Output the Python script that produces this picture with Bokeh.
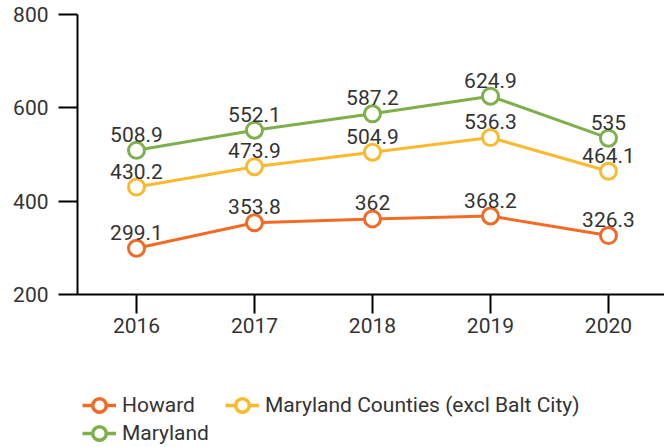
from bokeh.plotting import figure
from bokeh.layouts import column
from bokeh.models import ColumnDataSource, Legend, LegendItem, FixedTicker, Range1d
from bokeh.core.properties import value
from bokeh.embed import file_html
from bokeh.resources import INLINE

years = [2016, 2017, 2018, 2019, 2020]
howard = [299.1, 353.8, 362, 368.2, 326.3]
maryland = [508.9, 552.1, 587.2, 624.9, 535]
counties = [430.2, 473.9, 504.9, 536.3, 464.1]
y_ticks = [200, 400, 600, 800]

names = ["Howard", "Maryland", "Maryland Counties (excl Balt City)"]
colors = ["#F26B25", "#7EAF4B", "#FBB92D"]
values_list = [howard, maryland, counties]

FONT = "Roboto"
FS = "21px"
W = 664

p = figure(width=W, height=350, output_backend="svg", toolbar_location=None,
           x_range=Range1d(2015.5, 2020.475), y_range=Range1d(200, 800),
           min_border_left=77, min_border_right=0, min_border_top=14, min_border_bottom=56)
p.outline_line_color = None
p.grid.visible = False

for ax in (p.xaxis, p.yaxis):
    ax.axis_line_color = "black"
    ax.axis_line_width = 2
    ax.major_tick_line_color = "black"
    ax.major_tick_line_width = 2
    ax.major_tick_out = 19
    ax.major_tick_in = 0
    ax.minor_tick_line_color = None
    ax.major_label_text_font = FONT
    ax.major_label_text_font_size = FS
    ax.major_label_text_color = "#333333"
p.yaxis.ticker = FixedTicker(ticks=y_ticks)
p.xaxis.ticker = FixedTicker(ticks=years)
p.yaxis.major_label_standoff = 10
p.xaxis.major_label_standoff = 4

for name, vals, color in zip(names, values_list, colors):
    src = ColumnDataSource(dict(x=years, y=vals, t=[f"{v:g}" for v in vals]))
    p.line("x", "y", source=src, line_color=color, line_width=3)
    p.scatter("x", "y", source=src, size=16, fill_color="white",
              line_color=color, line_width=3)
    p.text("x", "y", text="t", source=src, text_font=value(FONT), text_font_size=FS,
           text_color="#333333", text_align="center", text_baseline="middle",
           y_offset=-16)

# legend in a separate strip below the chart
p2 = figure(width=W, height=97, output_backend="svg", toolbar_location=None,
            x_range=Range1d(0, 1), y_range=Range1d(0, 1),
            min_border_left=77, min_border_right=0, min_border_top=0, min_border_bottom=0)
p2.axis.visible = False
p2.grid.visible = False
p2.outline_line_color = None

rend = []
for color in colors:
    ln = p2.line(x=[5, 6], y=[5, 5], line_color=color, line_width=3.5)
    sc = p2.scatter(x=[5], y=[5], size=14, fill_color="white", line_color=color, line_width=3.5)
    rend.append([ln, sc])

legend_locs = [(5, 23), (5, -5), (148, 23)]
for name, r, loc in zip(names, rend, legend_locs):
    lg = Legend(items=[LegendItem(label=name, renderers=r)], location=loc)
    lg.label_text_font = FONT
    lg.label_text_font_size = FS
    lg.label_text_color = "#333333"
    lg.glyph_width = 34
    lg.glyph_height = 38
    lg.label_height = 22
    lg.label_standoff = 6
    lg.spacing = 0
    lg.padding = 0
    lg.margin = 0
    lg.border_line_color = None
    lg.background_fill_alpha = 0
    p2.add_layout(lg, "center")

layout = column(p, p2, spacing=0)
open("out.html", "w").write(file_html(layout, INLINE))
